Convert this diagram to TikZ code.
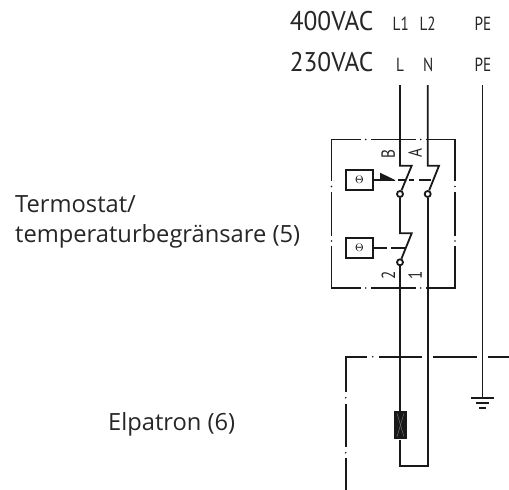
\documentclass[tikz,border=0pt]{standalone}
\usepackage{fontspec}
\setmainfont{Open Sans}
\newfontfamily\din{PT Sans}
\newcommand{\nrw}[1]{\scalebox{.8}[1]{#1}}
\begin{document}
\begin{tikzpicture}[x=1pt,y=-1pt,
 wire/.style={line width=1.8pt,draw=black!90},
 frame/.style={line width=1.8pt,draw=black!90},
 lab/.style={font=\din\fontsize{19}{22}\selectfont,text=black!85,inner sep=0pt,anchor=base},
 rlab/.style={font=\din\fontsize{19}{22}\selectfont,text=black!85,inner sep=0pt,rotate=90},
 big/.style={font=\din\fontsize{27}{30}\selectfont,text=black!85,inner sep=0pt,anchor=base},
 txt/.style={font=\fontsize{23.7}{30.5}\selectfont,text=black!85,inner sep=0pt,anchor=base west},
 sens/.style={draw=black!90,line width=1.8pt,minimum width=27pt,minimum height=20pt,inner sep=0pt,font=\fontsize{11}{11}\selectfont},
 dot/.style={circle,draw=black!90,line width=1.8pt,fill=white,minimum size=6pt,inner sep=0pt}]
\useasboundingbox (0,0) rectangle (509,490);
\node[big] (v400) at (331.5,30.7) {\scalebox{.94}[1]{400VAC}};
\node[big] (v230) at (331.5,71.7) {\scalebox{.94}[1]{230VAC}};
\node[lab] (l1) at (400.8,30.7) {\nrw{L1}};
\node[lab] (l2) at (427.7,30.7) {\nrw{L2}};
\node[lab] (pe1) at (483,30.7) {\nrw{PE}};
\node[lab] (l) at (400,71.7) {\nrw{L}};
\node[lab] (n) at (428.3,71.7) {\nrw{N}};
\node[lab] (pe2) at (483,71.7) {\nrw{PE}};
% upper frame
\draw[frame] (360.7,139.5) -- (331.5,139.5) -- (331.5,181);
\draw[frame] (331.5,192) -- (331.5,236);
\draw[frame] (331.5,246) -- (331.5,288) -- (360.7,288);
\draw[frame] (371,139.5) -- (415.5,139.5);
\draw[frame] (371,288) -- (415.5,288);
\draw[frame] (426,139.5) -- (455,139.5) -- (455,181);
\draw[frame] (455,192) -- (455,236);
\draw[frame] (455,246) -- (455,288) -- (426,288);
\foreach \p in {(365.8,139.5),(420.7,139.5),(365.8,288),(420.7,288),(331.5,186.5),(331.5,241),(455,186.5),(455,241)}
  \fill[black!90] \p circle (.9pt);
% lower frame
\draw[frame] (366.7,356.7) -- (345.7,356.7) -- (345.7,391.7);
\draw[frame] (345.7,404) -- (345.7,446.7);
\draw[frame] (345.7,458.3) -- (345.7,490);
\draw[frame] (379.3,356.7) -- (421.7,356.7);
\draw[frame] (433.3,356.7) -- (476.7,356.7);
\draw[frame] (488.3,356.7) -- (509,356.7);
\draw[frame,black!50] (509.5,356.7) -- (509.5,391.7);
\draw[frame,black!50] (509.5,404) -- (509.5,446.7);
\draw[frame,black!50] (509.5,458.3) -- (509.5,490);
\foreach \p in {(372.7,356.7),(345.7,397.7),(345.7,452.7)}
  \fill[black!90] \p circle (.9pt);
% wires and contacts
\node[dot] (s1) at (400,194) {};
\node[dot] (s2) at (427.7,194) {};
\node[dot] (s3) at (400,262.3) {};
\coordinate (ltop) at (400,85);
\coordinate (ntop) at (427.7,85);
\draw[wire] (ltop) -- (400,165.7) -- (411.7,165.7) -- (s1);
\draw[wire] (ntop) -- (427.7,165.7) -- (439,165.7) -- (s2);
\draw[wire] (s1) -- (400,233.3) -- (411.7,233.3) -- (s3);
\node[fill=black!90,minimum width=12.4pt,minimum height=28.6pt,inner sep=0pt] (r) at (400.5,425) {};
\draw[wire] (s3) -- (r.north -| s3);
\draw[wire] (r.south -| s3) -- (400,466) -- (427.7,466) -- (s2);
% sensors
\node[sens] (t1) at (359.5,180) {$\Theta$};
\node[sens] (t2) at (359.5,248) {$\Theta$};
\coordinate (tri) at (382,180);
\draw[wire] (t1) -- (tri);
\fill[black!90] (380,172.7) -- (395,180) -- (395,180.8) -- (380,181) -- cycle;
\draw[wire] (398,180) -- (405,180);
\draw[wire] (409,180) -- (414,180);
\draw[wire] (419,180) -- (431,180);
\coordinate (t2e) at (386.7,248.3);
\draw[wire] (t2.east |- t2e) -- (t2e);
\draw[wire] (391,248.3) -- (405,248.3);
% terminals
\node[rlab] (b) at (388.3,154) {\nrw{B}};
\node[rlab] (a) at (415,153) {\nrw{A}};
\node[rlab] (two) at (388.3,275) {\nrw{2}};
\node[rlab] (one) at (415,275) {\nrw{1}};
% heater cross
\draw[black!50,line width=.4pt] ([xshift=3pt,yshift=-3pt]r.north west) -- ([xshift=-3pt,yshift=3pt]r.south east);
\draw[black!50,line width=.4pt] ([xshift=-3pt,yshift=-3pt]r.north east) -- ([xshift=3pt,yshift=3pt]r.south west);
% earth
\coordinate (petop) at (482.5,85);
\coordinate (gnd) at (482.5,397.7);
\draw[wire] (petop) -- (gnd);
\draw[wire] (471,397.7) -- (494,397.7);
\draw[wire] (476,402.7) -- (489,402.7);
\draw[wire] (479.3,407.7) -- (486,407.7);
\node[txt] (term1) at (15,212) {Termostat/};
\node[txt] (term2) at (15,242.7) {temperaturbegränsare (5)};
\node[txt] (elp) at (108,430.7) {Elpatron (6)};
\end{tikzpicture}
\end{document}
